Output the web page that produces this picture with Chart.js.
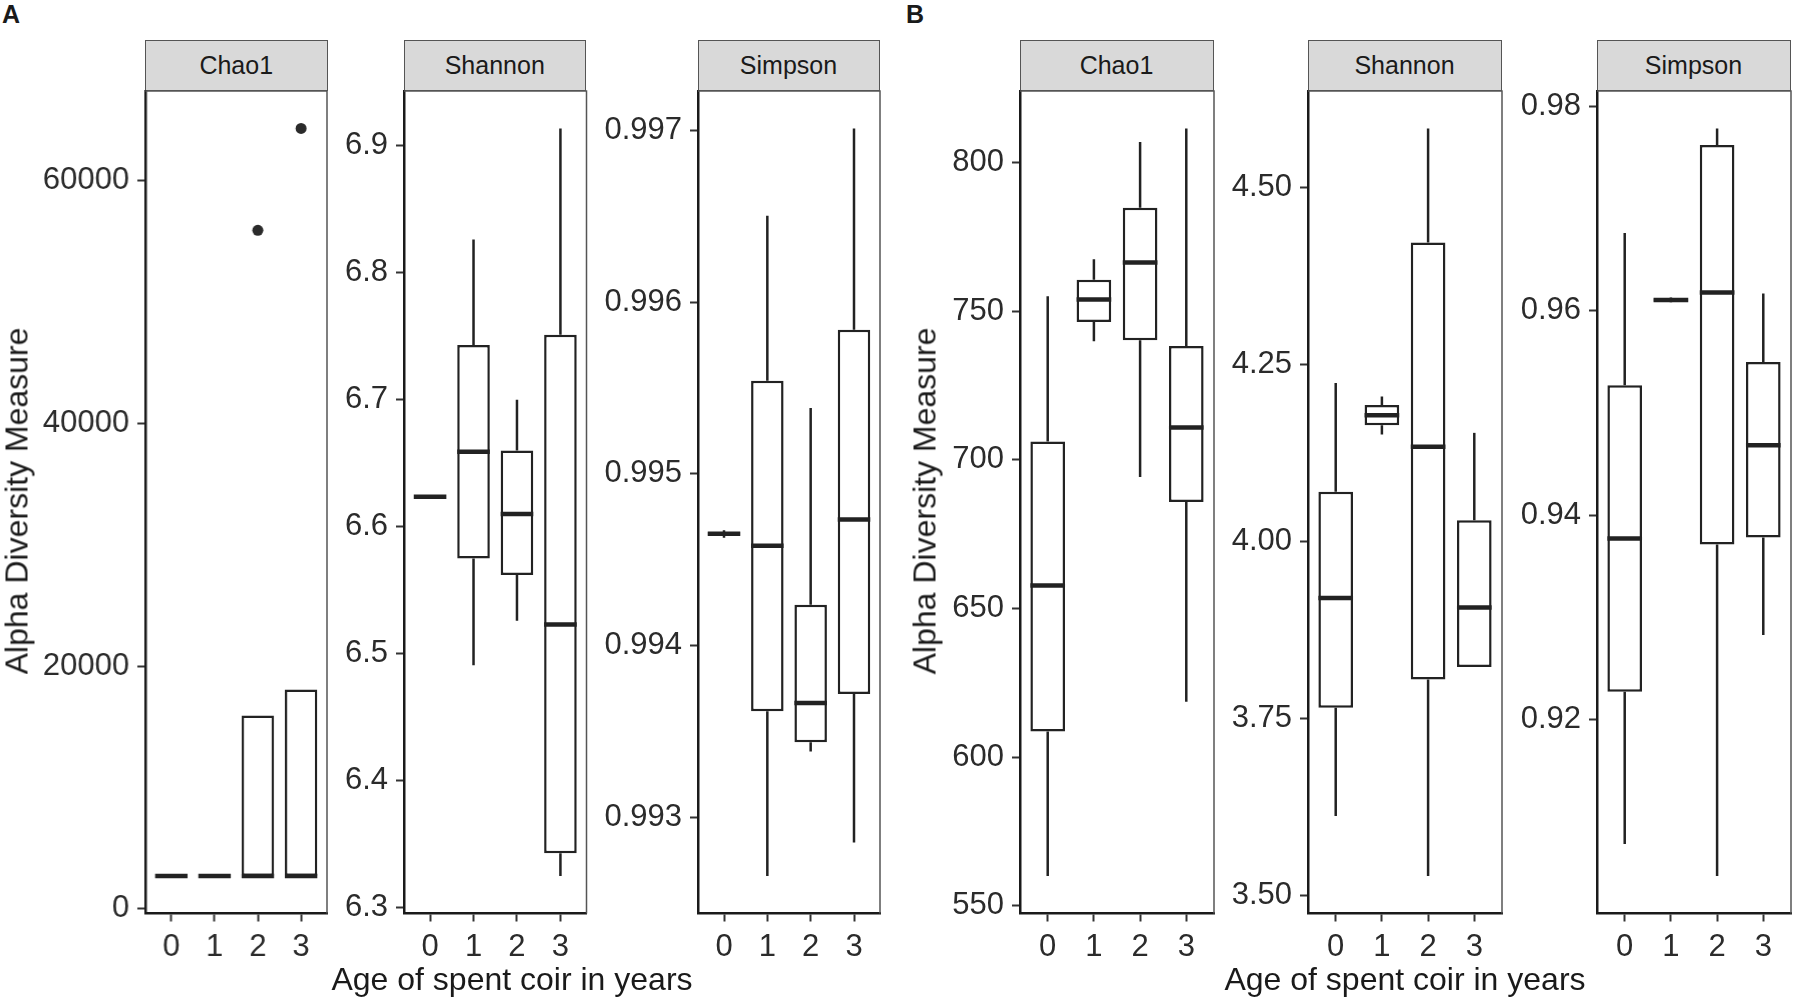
<!DOCTYPE html>
<html>
<head>
<meta charset="utf-8">
<script src="https://cdn.jsdelivr.net/npm/chart.js@4.4.1/dist/chart.umd.min.js"></script>
<style>
  html, body { margin:0; padding:0; background:#fff; }
  body { width:1793px; height:998px; position:relative; overflow:hidden;
         font-family:'Liberation Sans', Arial, sans-serif; color:#1a1a1a; }
  .box { position:absolute; }
  .strip { position:absolute; box-sizing:border-box; background:#d9d9d9; border:1.5px solid #555;
           display:flex; align-items:center; justify-content:center; font-size:25px; color:#1a1a1a; }
  .ytitle { position:absolute; font-size:32px; white-space:nowrap; transform:translate(-50%,-50%) rotate(-90deg); }
  .xtitle { position:absolute; font-size:32px; white-space:nowrap; transform:translate(-50%,-50%); }
  .tag { position:absolute; font-weight:bold; font-size:25px; }
</style>
</head>
<body>
<script>
// ---------------- DATA ----------------
const categories = [0, 1, 2, 3];            // Age of spent coir in years

// Panel A - Chao1
const chaoA_lo  = [2700, 2700, 2700, 2700];
const chaoA_q1  = [2700, 2700, 2700, 2700];
const chaoA_med = [2700, 2700, 2700, 2700];
const chaoA_q3  = [2700, 2700, 15930, 18070];
const chaoA_hi  = [2700, 2700, 15930, 18070];
const chaoA_outX = [2, 3];
const chaoA_outY = [55900, 64300];
const chaoA_ticks = [0, 20000, 40000, 60000];

// Panel A - Shannon
const shanA_lo  = [6.6236, 6.491, 6.526, 6.325];
const shanA_q1  = [6.6236, 6.575, 6.562, 6.343];
const shanA_med = [6.6236, 6.659, 6.610, 6.523];
const shanA_q3  = [6.6236, 6.743, 6.660, 6.751];
const shanA_hi  = [6.6236, 6.826, 6.700, 6.9135];
const shanA_ticks = [6.3, 6.4, 6.5, 6.6, 6.7, 6.8, 6.9];

// Panel A - Simpson
const simpA_lo  = [0.994628, 0.992659, 0.993385, 0.992855];
const simpA_q1  = [0.994640, 0.993619, 0.993438, 0.993719];
const simpA_med = [0.994651, 0.994582, 0.993666, 0.994735];
const simpA_q3  = [0.994662, 0.995542, 0.994239, 0.995839];
const simpA_hi  = [0.994672, 0.996503, 0.995383, 0.997011];
const simpA_ticks = [0.993, 0.994, 0.995, 0.996, 0.997];

// Panel B - Chao1
const chaoB_lo  = [560.0, 739.8, 694.2, 618.6];
const chaoB_q1  = [608.6, 746.3, 740.2, 685.8];
const chaoB_med = [657.7, 753.9, 766.3, 710.8];
const chaoB_q3  = [706.1, 760.5, 784.7, 738.2];
const chaoB_hi  = [755.0, 767.4, 806.8, 811.4];
const chaoB_ticks = [550, 600, 650, 700, 750, 800];

// Panel B - Shannon
const shanB_lo  = [3.6117, 4.1506, 3.5269, 3.8221];
const shanB_q1  = [3.7646, 4.1635, 3.8047, 3.8221];
const shanB_med = [3.9198, 4.1779, 4.1332, 3.9061];
const shanB_q3  = [4.0696, 4.1923, 4.4217, 4.0295];
const shanB_hi  = [4.2233, 4.2044, 4.5829, 4.1529];
const shanB_ticks = [3.50, 3.75, 4.00, 4.25, 4.50];

// Panel B - Simpson
const simpB_lo  = [0.90786, 0.96082, 0.90472, 0.92830];
const simpB_q1  = [0.92274, 0.96088, 0.93715, 0.93783];
const simpB_med = [0.93773, 0.96105, 0.96178, 0.94685];
const simpB_q3  = [0.95272, 0.96122, 0.97619, 0.95497];
const simpB_hi  = [0.96760, 0.96128, 0.97782, 0.96168];
const simpB_ticks = [0.92, 0.94, 0.96, 0.98];

const stripLabels = ['Chao1', 'Shannon', 'Simpson'];
const xTitle = 'Age of spent coir in years';
const yTitle = 'Alpha Diversity Measure';

// ---------------- LAYOUT ----------------
Chart.defaults.font.family = "'Liberation Sans', Arial, sans-serif";
const PLOT_TOP = 90.5, PLOT_H = 822.5, STRIP_TOP = 40, STRIP_H = 50.5;
const AXIS_W = 110, AXIS_H = 85, PAD_T = 10, PAD_R = 4;
const INK = '#222222';

const panels = [
  { left:145,    width:182.5, strip:0, lo:chaoA_lo, q1:chaoA_q1, med:chaoA_med, q3:chaoA_q3, hi:chaoA_hi, ticks:chaoA_ticks, dec:0, outX:chaoA_outX, outY:chaoA_outY },
  { left:403.5,  width:182.5, strip:1, lo:shanA_lo, q1:shanA_q1, med:shanA_med, q3:shanA_q3, hi:shanA_hi, ticks:shanA_ticks, dec:1 },
  { left:697.5,  width:182,   strip:2, lo:simpA_lo, q1:simpA_q1, med:simpA_med, q3:simpA_q3, hi:simpA_hi, ticks:simpA_ticks, dec:3 },
  { left:1019.5, width:194,   strip:0, lo:chaoB_lo, q1:chaoB_q1, med:chaoB_med, q3:chaoB_q3, hi:chaoB_hi, ticks:chaoB_ticks, dec:0 },
  { left:1307.5, width:194,   strip:1, lo:shanB_lo, q1:shanB_q1, med:shanB_med, q3:shanB_q3, hi:shanB_hi, ticks:shanB_ticks, dec:2 },
  { left:1596.5, width:194,   strip:2, lo:simpB_lo, q1:simpB_q1, med:simpB_med, q3:simpB_q3, hi:simpB_hi, ticks:simpB_ticks, dec:2 },
];

function addDiv(cls, text, css) {
  const d = document.createElement('div');
  d.className = cls; d.textContent = text;
  Object.assign(d.style, css);
  document.body.appendChild(d);
  return d;
}

// whiskers + medians + top/right border, drawn through the chart's scales
const boxExtras = {
  id: 'boxExtras',
  afterDatasetsDraw(chart, args, opts) {
    const ctx = chart.ctx, ys = chart.scales.y;
    const meta = chart.getDatasetMeta(0);
    ctx.save();
    ctx.strokeStyle = INK;
    meta.data.forEach((el, i) => {
      const x = el.x, hw = el.width / 2;
      ctx.lineWidth = 2.5; ctx.lineCap = 'butt';
      ctx.beginPath();
      ctx.moveTo(x, ys.getPixelForValue(opts.hi[i])); ctx.lineTo(x, ys.getPixelForValue(opts.q3[i]));
      ctx.moveTo(x, ys.getPixelForValue(opts.q1[i])); ctx.lineTo(x, ys.getPixelForValue(opts.lo[i]));
      ctx.stroke();
      ctx.lineWidth = 4.5;
      const ym = ys.getPixelForValue(opts.med[i]);
      ctx.beginPath(); ctx.moveTo(x - hw, ym); ctx.lineTo(x + hw, ym); ctx.stroke();
    });
    ctx.restore();
  },
  afterDraw(chart) {
    const ctx = chart.ctx, a = chart.chartArea;
    ctx.save();
    ctx.strokeStyle = '#555'; ctx.lineWidth = 1.5;
    ctx.beginPath();
    ctx.moveTo(a.left, a.top); ctx.lineTo(a.right, a.top); ctx.lineTo(a.right, a.bottom);
    ctx.stroke();
    ctx.restore();
  }
};

function zeroPad(s) { s.paddingTop = 0; s.paddingBottom = 0; s.paddingLeft = 0; s.paddingRight = 0; }

panels.forEach(p => {
  addDiv('strip', stripLabels[p.strip], { left:p.left+'px', top:STRIP_TOP+'px', width:p.width+'px', height:STRIP_H+'px' });

  const wrap = document.createElement('div');
  wrap.className = 'box';
  Object.assign(wrap.style, { left:(p.left - AXIS_W)+'px', top:(PLOT_TOP - PAD_T)+'px',
    width:(p.width + AXIS_W + PAD_R)+'px', height:(PLOT_H + AXIS_H + PAD_T)+'px' });
  const cv = document.createElement('canvas');
  wrap.appendChild(cv);
  document.body.appendChild(wrap);

  const allVals = p.lo.concat(p.hi, p.outY || []);
  const vmin = Math.min(...allVals), vmax = Math.max(...allVals);
  const ex = (vmax - vmin) * 0.05;

  const datasets = [{
    type: 'bar',
    data: categories.map((c, i) => ({ x: c, y: [p.q1[i], p.q3[i]] })),
    backgroundColor: '#ffffff', borderColor: INK, borderWidth: 2.5, borderSkipped: false,
    barPercentage: 0.75, categoryPercentage: 1.0
  }];
  if (p.outX) {
    datasets.push({
      type: 'scatter',
      data: p.outX.map((x, i) => ({ x: x, y: p.outY[i] })),
      pointRadius: 5.5, pointBackgroundColor: '#2b2b2b', pointBorderWidth: 0
    });
  }

  const tickFont = { size: 31 };
  new Chart(cv, {
    type: 'bar',
    data: { datasets },
    plugins: [boxExtras],
    options: {
      responsive: true, maintainAspectRatio: false, animation: false,
      layout: { padding: { top: PAD_T, right: PAD_R, left: 0, bottom: 0 } },
      plugins: {
        legend: { display: false }, tooltip: { enabled: false },
        boxExtras: { lo: p.lo, q1: p.q1, med: p.med, q3: p.q3, hi: p.hi }
      },
      scales: {
        x: {
          type: 'linear', min: -0.6, max: 3.6, offset: false,
          afterBuildTicks: s => { s.ticks = categories.map(v => ({ value: v })); },
          afterFit: s => { s.height = AXIS_H; zeroPad(s); },
          ticks: { autoSkip: false, maxRotation: 0, font: tickFont, color: '#2b2b2b', padding: 7,
                   callback: v => String(v) },
          grid: { offset: false, drawOnChartArea: false, drawTicks: true, tickLength: 8, tickWidth: 2, tickColor: '#333' },
          border: { color: '#1a1a1a', width: 2.5 }
        },
        y: {
          type: 'linear', min: vmin - ex, max: vmax + ex,
          afterBuildTicks: s => { s.ticks = p.ticks.map(v => ({ value: v })); },
          afterFit: s => { s.width = AXIS_W; zeroPad(s); },
          ticks: { autoSkip: false, font: tickFont, color: '#2b2b2b', padding: 8,
                   callback: v => Number(v).toFixed(p.dec) },
          grid: { drawOnChartArea: false, drawTicks: true, tickLength: 8, tickWidth: 2, tickColor: '#333' },
          border: { color: '#1a1a1a', width: 2.5 }
        }
      }
    }
  });
});

// titles & tags
addDiv('ytitle', yTitle, { left:'17px', top:'501px' });
addDiv('ytitle', yTitle, { left:'925px', top:'501px' });
addDiv('xtitle', xTitle, { left:'512px', top:'979px' });
addDiv('xtitle', xTitle, { left:'1405px', top:'979px' });
addDiv('tag', 'A', { left:'2px', top:'0px' });
addDiv('tag', 'B', { left:'906px', top:'0px' });
</script>
</body>
</html>
